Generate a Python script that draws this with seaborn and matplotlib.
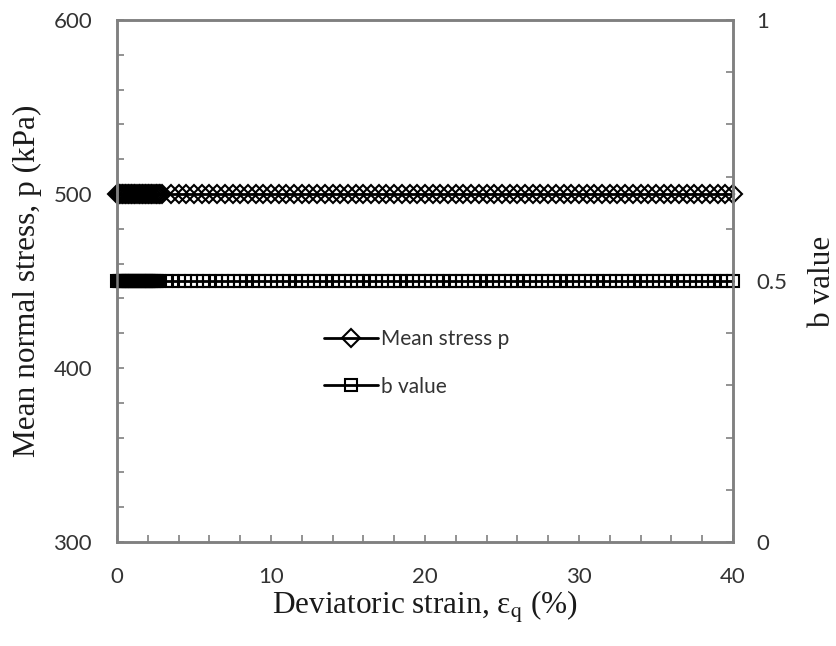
import matplotlib
matplotlib.use("Agg")
import matplotlib.pyplot as plt
from matplotlib.ticker import MultipleLocator, FixedLocator, FixedFormatter
import numpy as np
import pandas as pd
import seaborn as sns

# Deviatoric strain (%) at which the mean stress p was logged
strain_p = [
    0.0, 0.1, 0.2, 0.3, 0.4, 0.5, 0.6, 0.7, 0.8, 0.9,
    1.0, 1.1, 1.2, 1.3, 1.4, 1.5, 1.6, 1.7, 1.8, 1.9,
    2.0, 2.1, 2.2, 2.3, 2.4, 2.5, 2.6, 2.7, 2.8, 2.9,
    3.5, 4.0, 4.5, 5.0, 5.5, 6.0, 6.5, 7.0, 7.5, 8.0,
    8.5, 9.0, 9.5, 10.0, 10.5, 11.0, 11.5, 12.0, 12.5, 13.0,
    13.5, 14.0, 14.5, 15.0, 15.5, 16.0, 16.5, 17.0, 17.5, 18.0,
    18.5, 19.0, 19.5, 20.0, 20.5, 21.0, 21.5, 22.0, 22.5, 23.0,
    23.5, 24.0, 24.5, 25.0, 25.5, 26.0, 26.5, 27.0, 27.5, 28.0,
    28.5, 29.0, 29.5, 30.0, 30.5, 31.0, 31.5, 32.0, 32.5, 33.0,
    33.5, 34.0, 34.5, 35.0, 35.5, 36.0, 36.5, 37.0, 37.5, 38.0,
    38.5, 39.0, 39.5, 40.0,
]
# Deviatoric strain (%) at which the b value was logged
strain_b = [
    0.0, 0.1, 0.2, 0.3, 0.4, 0.5, 0.6, 0.7, 0.8, 0.9,
    1.0, 1.1, 1.2, 1.3, 1.4, 1.5, 1.6, 1.7, 1.8, 1.9,
    2.0, 2.1, 2.2, 2.3, 2.4, 2.5, 2.6, 2.7,
    3.2, 3.6, 4.0, 4.4, 4.8, 5.2, 5.6, 6.0, 6.4, 6.8,
    7.2, 7.6, 8.0, 8.4, 8.8, 9.2, 9.6, 10.0, 10.4, 10.8,
    11.2, 11.6, 12.0, 12.4, 12.8, 13.2, 13.6, 14.0, 14.4, 14.8,
    15.2, 15.6, 16.0, 16.4, 16.8, 17.2, 17.6, 18.0, 18.4, 18.8,
    19.2, 19.6, 20.0, 20.4, 20.8, 21.2, 21.6, 22.0, 22.4, 22.8,
    23.2, 23.6, 24.0, 24.4, 24.8, 25.2, 25.6, 26.0, 26.4, 26.8,
    27.2, 27.6, 28.0, 28.4, 28.8, 29.2, 29.6, 30.0, 30.4, 30.8,
    31.2, 31.6, 32.0, 32.4, 32.8, 33.2, 33.6, 34.0, 34.4, 34.8,
    35.2, 35.6, 36.0, 36.4, 36.8, 37.2, 37.6, 38.0, 38.4, 38.8,
    39.2, 39.6, 40.0,
]
mean_stress_kpa = 500.0   # constant mean normal stress held during the test
b_value = 0.5             # constant intermediate principal stress ratio

p_values = np.full(len(strain_p), mean_stress_kpa)
b_values = np.full(len(strain_b), b_value)

x_ticks = [0, 10, 20, 30, 40]
p_ticks = [300, 400, 500, 600]
b_ticks = [0, 0.5, 1]
b_tick_labels = ["0", "0.5", "1"]

df_p = pd.DataFrame({"strain": strain_p, "p": p_values})
df_b = pd.DataFrame({"strain": strain_b, "b": b_values})

sns.set_theme(style="white")
plt.rcParams["font.family"] = ["Lato", "DejaVu Sans"]
plt.rcParams["mathtext.fontset"] = "stix"

spine_col = "#808080"
tick_txt = "#333333"
serif = ["Liberation Serif", "DejaVu Serif"]

fig = plt.figure(figsize=(8.37, 6.46), dpi=100)
ax = fig.add_axes([0.1398, 0.161, 0.7359, 0.808])
ax2 = ax.twinx()

sns.lineplot(data=df_p, x="strain", y="p", ax=ax, color="black", linewidth=2.0,
             marker="D", markersize=9, markerfacecolor="none",
             markeredgecolor="black", markeredgewidth=1.5, clip_on=False,
             label="Mean stress p", legend=False)
sns.lineplot(data=df_b, x="strain", y="b", ax=ax2, color="black", linewidth=2.0,
             marker="s", markersize=9, markerfacecolor="none",
             markeredgecolor="black", markeredgewidth=1.5, clip_on=False,
             label="b value", legend=False)

ax.set_xlim(0, 40)
ax.set_ylim(300, 600)
ax2.set_ylim(0, 1)

ax.xaxis.set_major_locator(FixedLocator(x_ticks))
ax.xaxis.set_minor_locator(MultipleLocator(2))
ax.yaxis.set_major_locator(FixedLocator(p_ticks))
ax.yaxis.set_minor_locator(MultipleLocator(20))
ax2.yaxis.set_major_locator(FixedLocator(b_ticks))
ax2.yaxis.set_major_formatter(FixedFormatter(b_tick_labels))
ax2.yaxis.set_minor_locator(MultipleLocator(0.1))

for a in (ax, ax2):
    for s in a.spines.values():
        s.set_color(spine_col)
        s.set_linewidth(1.8)
    a.tick_params(which="both", direction="in", color=spine_col, width=1.2,
                  length=5, labelsize=16, labelcolor=tick_txt)
ax.tick_params(axis="x", which="both", bottom=True, pad=18)
ax.tick_params(axis="y", which="both", left=True, right=False, pad=18)
ax2.tick_params(axis="y", which="both", right=True, left=False, pad=17)

ax.set_xlabel("Deviatoric strain, ε$_\\mathrm{q}$ (%)", family=serif,
              fontsize=22.5, color="#1a1a1a", labelpad=1.5)
ax.set_ylabel("Mean normal stress, p (kPa)", family=serif, fontsize=22.5,
              color="#1a1a1a", labelpad=8)
ax2.set_ylabel("b value", family=serif, fontsize=22.5, color="#1a1a1a",
               labelpad=15)

h1, l1 = ax.get_legend_handles_labels()
h2, l2 = ax2.get_legend_handles_labels()
ax2.legend(h1 + h2, l1 + l2, loc="center left", bbox_to_anchor=(0.305, 0.343),
           frameon=False, fontsize=15, handlelength=2.6, handletextpad=0.15,
           labelspacing=1.3, labelcolor=tick_txt)

fig.savefig("out.png", dpi=100)
